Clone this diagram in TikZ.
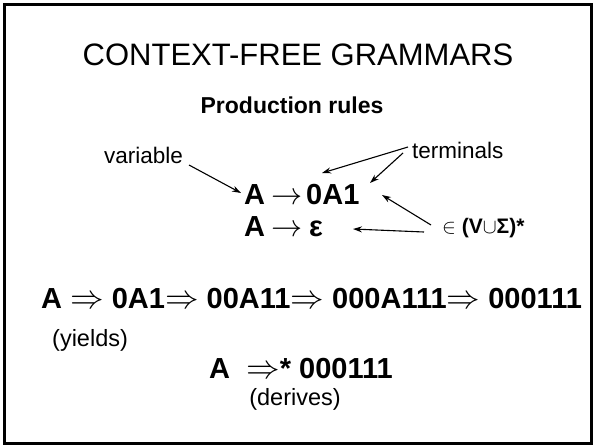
\documentclass[tikz,border=0pt]{standalone}
\usepackage{fontspec}
\setmainfont{Liberation Sans}
\usetikzlibrary{arrows.meta}
\newcommand{\thinarr}{\scalebox{1.25}{$\rightarrow$}}
\newcommand{\dblarr}{\scalebox{1.35}{$\Rightarrow$}}
\tikzset{
  lbl/.style={inner sep=0pt, anchor=base west},
  ctr/.style={inner sep=0pt, anchor=base},
  arr/.style={-{Stealth[length=9pt,width=6pt]}, line width=1.1pt},
  big/.style={font=\fontsize{31}{36}\selectfont},
  sub/.style={font=\bfseries\fontsize{23}{27}\selectfont},
  note/.style={font=\fontsize{22.5}{26}\selectfont},
  rule/.style={font=\bfseries\fontsize{29}{33}\selectfont},
  deriv/.style={font=\bfseries\fontsize{29}{33}\selectfont},
  paren/.style={font=\fontsize{23.5}{27}\selectfont},
}
\begin{document}
\begin{tikzpicture}[x=1pt,y=-1pt]
\useasboundingbox (0,0) rectangle (593,445);
\draw[line width=3pt] (4.5,4.5) rectangle (591.5,443.5);
\node[ctr,big] (title) at (298,65) {CONTEXT-FREE GRAMMARS};
\node[ctr,sub] (prod) at (292,113) {Production rules};
\node[lbl,note] (var) at (104,163) {variable};
\node[lbl,note] (term) at (412,158) {terminals};
% rule 1
\node[lbl,rule] (r1a) at (244,204) {A};
\node[ctr,rule] (r1arr) at (287,204) {\thinarr};
\node[lbl,rule] (r1r) at (306,204) {0A1};
% rule 2
\node[lbl,rule] (r2a) at (244,236) {A};
\node[ctr,rule] (r2arr) at (287,236) {\thinarr};
\node[lbl,rule] (r2r) at (309,236) {ε};
\node[lbl,font=\bfseries\fontsize{21}{24}\selectfont] (set) at (442,233) {$\in$ (V$\cup$Σ)*};
% arrows
\draw[arr] ([xshift=85pt,yshift=-2pt]var.base west) -- ([xshift=-3pt,yshift=11pt]r1a.base west);
\draw[arr] ([xshift=-4pt,yshift=11pt]term.base west) -- ([xshift=16pt,yshift=31pt]r1r.base west);
\draw[arr] ([xshift=-9pt,yshift=5pt]term.base west) -- ([xshift=64pt,yshift=21pt]r1r.base west);
\draw[arr] ([xshift=-11pt,yshift=8pt]set.base west) -- ([xshift=76pt,yshift=9pt]r1r.base west);
\draw[arr] ([xshift=-18pt,yshift=1pt]set.base west) -- ([xshift=44pt,yshift=7pt]r2r.base west);
% derivations
\node[lbl,deriv] (d1) at (41,308) {A \dblarr{} 0A1\dblarr{} 00A11\dblarr{} 000A111\dblarr{} 000111};
\node[lbl,paren] (yields) at (52,346) {(yields)};
\node[lbl,deriv] (d2) at (209,378) {A \ \dblarr* 000111};
\node[ctr,paren] (derives) at (295,405) {(derives)};
\end{tikzpicture}
\end{document}
